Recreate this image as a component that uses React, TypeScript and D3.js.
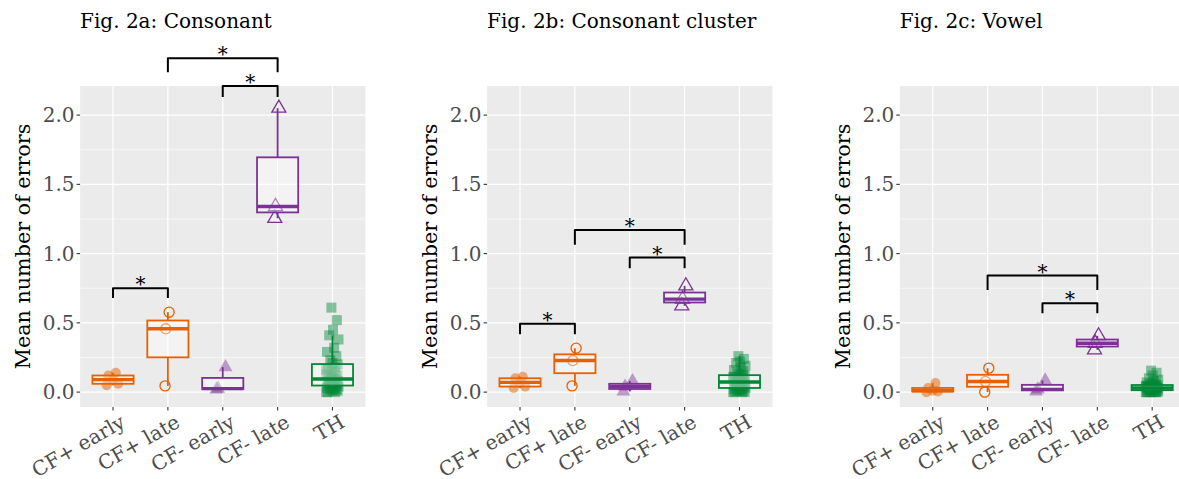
import React from "react";
import * as d3 from "d3";

const categories = ["CF+ early", "CF+ late", "CF- early", "CF- late", "TH"];
const titles = ["Fig. 2a: Consonant", "Fig. 2b: Consonant cluster", "Fig. 2c: Vowel"];
const yTicks = [0, 0.5, 1.0, 1.5, 2.0];
const yMinor = [0.25, 0.75, 1.25, 1.75];

// per-participant mean errors, one array per group
const consonant = [
  [0.05, 0.12, 0.14, 0.06, 0.09],
  [0.045, 0.457, 0.577],
  [0.02, 0.025, 0.18],
  [1.255, 1.34, 2.05],
  [0.0, 0.0, 0.0, 0.01, 0.01, 0.02, 0.02, 0.03, 0.03, 0.04,
   0.05, 0.05, 0.06, 0.06, 0.07, 0.07, 0.08, 0.08, 0.09, 0.09,
   0.10, 0.11, 0.12, 0.13, 0.14, 0.15, 0.16, 0.17, 0.18, 0.20,
   0.21, 0.23, 0.26, 0.29, 0.32, 0.38, 0.41, 0.45, 0.52, 0.61],
];
const cluster = [
  [0.03, 0.1, 0.11, 0.04, 0.07],
  [0.045, 0.228, 0.317],
  [0.005, 0.04, 0.08],
  [0.623, 0.671, 0.767],
  [0.0, 0.0, 0.0, 0.0, 0.01, 0.01, 0.01, 0.02, 0.02, 0.03,
   0.03, 0.04, 0.04, 0.05, 0.05, 0.06, 0.06, 0.06, 0.07, 0.07,
   0.075, 0.08, 0.09, 0.09, 0.10, 0.10, 0.11, 0.11, 0.12, 0.12,
   0.13, 0.14, 0.15, 0.16, 0.18, 0.19, 0.21, 0.22, 0.24, 0.26],
];
const vowel = [
  [0.0, 0.03, 0.065, 0.005, 0.01],
  [0.0, 0.077, 0.173],
  [0.005, 0.02, 0.085],
  [0.305, 0.353, 0.406],
  [0.0, 0.0, 0.0, 0.0, 0.0, 0.0, 0.0, 0.0, 0.01, 0.01,
   0.015, 0.02, 0.02, 0.02, 0.025, 0.025, 0.03, 0.03, 0.03, 0.03,
   0.03, 0.035, 0.035, 0.04, 0.04, 0.04, 0.045, 0.045, 0.05, 0.05,
   0.055, 0.06, 0.065, 0.07, 0.08, 0.09, 0.10, 0.12, 0.14, 0.155],
];

// significance brackets: [from, to, bracket y, tip end y]
const consonantBrackets = [[0, 1, 0.75, 0.68], [2, 3, 2.21, 2.13], [1, 3, 2.41, 2.31]];
const clusterBrackets = [[0, 1, 0.493, 0.418], [2, 3, 0.971, 0.895], [1, 3, 1.171, 1.063]];
const vowelBrackets = [[2, 3, 0.642, 0.57], [1, 3, 0.841, 0.738]];

const datasets = [consonant, cluster, vowel];
const bracketSets = [consonantBrackets, clusterBrackets, vowelBrackets];

// style / layout
const COLORS = ["#E66101", "#E66101", "#7B3294", "#7B3294", "#008837"];
const FILLED = [true, false, true, false, true];
const SHAPES = [d3.symbolCircle, d3.symbolCircle, d3.symbolTriangle, d3.symbolTriangle, d3.symbolSquare];
const SIZES = [80, 80, 85, 85, 100];
const ALPHA = [0.5, 0, 0.45, 0, 0.45];
const JITTER = [-0.115, -0.085, 0.05, 0.095, 0.0, -0.04, 0.07, -0.1, 0.03, 0.11, -0.06, 0.01,
  0.08, -0.02, -0.09, 0.04, 0.1, -0.05, 0.06, -0.07, 0.02, -0.03, 0.09, -0.11, 0.05, -0.01];
const PANEL_LEFT = [80.1, 487.1, 899.8];
const PANEL_W = 285.3;
const TOP = 86;
const BOTTOM = 407;
const FONT = "'DejaVu Serif', serif";

function boxStats(vals: number[]) {
  const s = [...vals].sort((a, b) => a - b);
  const q1 = d3.quantile(s, 0.25)!;
  const med = d3.quantile(s, 0.5)!;
  const q3 = d3.quantile(s, 0.75)!;
  const iqr = q3 - q1;
  const lo = d3.min(s.filter((v) => v >= q1 - 1.5 * iqr))!;
  const hi = d3.max(s.filter((v) => v <= q3 + 1.5 * iqr))!;
  return { q1, med, q3, lo, hi };
}

function Panel({ idx }: { idx: number }) {
  const left = PANEL_LEFT[idx];
  const data = datasets[idx];
  const x = d3.scaleBand().domain(categories).range([left, left + PANEL_W]).paddingOuter(0.1).paddingInner(0);
  const step = x.step();
  const cx = (c: string) => x(c)! + step / 2;
  const y = d3.scaleLinear().domain([-0.1075, 2.21]).range([BOTTOM, TOP]);
  const right = left + PANEL_W;
  return (
    <g>
      <text x={left} y={27.5} fontSize={20} fontFamily={FONT} fill="#000">{titles[idx]}</text>
      <rect x={left} y={TOP} width={PANEL_W} height={BOTTOM - TOP} fill="#EBEBEB" />
      {yMinor.map((t) => (
        <line key={"m" + t} x1={left} x2={right} y1={y(t)} y2={y(t)} stroke="#fff" strokeWidth={0.6} />
      ))}
      {yTicks.map((t) => (
        <line key={"M" + t} x1={left} x2={right} y1={y(t)} y2={y(t)} stroke="#fff" strokeWidth={1.2} />
      ))}
      {categories.map((c) => (
        <line key={"v" + c} x1={cx(c)} x2={cx(c)} y1={TOP} y2={BOTTOM} stroke="#fff" strokeWidth={1.2} />
      ))}
      {/* points */}
      {data.map((vals, gi) => {
        const c = categories[gi];
        const sym = d3.symbol().type(SHAPES[gi]).size(SIZES[gi]);
        const scale = FILLED[gi] ? 1 : 0.45;
        return vals.map((v, pi) => {
          const px = cx(c) + JITTER[pi % JITTER.length] * step * scale;
          const py = y(v);
          return (
            <path
              key={gi + "-" + pi}
              d={sym()!}
              transform={`translate(${px},${py})`}
              fill={FILLED[gi] ? COLORS[gi] : "none"}
              fillOpacity={ALPHA[gi]}
              stroke={FILLED[gi] ? "none" : COLORS[gi]}
              strokeWidth={1.3}
            />
          );
        });
      })}
      {/* boxes */}
      {data.map((vals, gi) => {
        const c = categories[gi];
        const st = boxStats(vals);
        const bw = step * 0.75;
        const x0 = cx(c) - bw / 2;
        return (
          <g key={"b" + gi} stroke={COLORS[gi]}>
            <line x1={cx(c)} x2={cx(c)} y1={y(st.q3)} y2={y(st.hi)} strokeWidth={1.8} />
            <line x1={cx(c)} x2={cx(c)} y1={y(st.q1)} y2={y(st.lo)} strokeWidth={1.8} />
            <rect x={x0} y={y(st.q3)} width={bw} height={y(st.q1) - y(st.q3)} fill="#fff" fillOpacity={0.4} strokeWidth={1.8} />
            <line x1={x0} x2={x0 + bw} y1={y(st.med)} y2={y(st.med)} strokeWidth={3.4} />
          </g>
        );
      })}
      {/* axes ticks */}
      {yTicks.map((t) => (
        <g key={"yt" + t}>
          <line x1={left - 3.5} x2={left} y1={y(t)} y2={y(t)} stroke="#333" strokeWidth={1.1} />
          <text x={left - 5.5} y={y(t)} dy="0.35em" textAnchor="end" fontSize={20} fontFamily={FONT} fill="#4D4D4D">
            {d3.format(".1f")(t)}
          </text>
        </g>
      ))}
      {categories.map((c) => (
        <g key={"xt" + c}>
          <line x1={cx(c)} x2={cx(c)} y1={BOTTOM} y2={BOTTOM + 3.5} stroke="#333" strokeWidth={1.1} />
          <text
            transform={`translate(${cx(c) + 6},${BOTTOM + 6}) rotate(-30) translate(0,15)`}
            textAnchor="end"
            fontSize={20}
            fontFamily={FONT}
            fill="#4D4D4D"
          >
            {c}
          </text>
        </g>
      ))}
      <text
        transform={`translate(${left - 57.5},${(TOP + BOTTOM) / 2}) rotate(-90)`}
        textAnchor="middle"
        dy="0.35em"
        fontSize={20.7}
        fontFamily={FONT}
        fill="#000"
      >
        Mean number of errors
      </text>
      {/* significance brackets */}
      {bracketSets[idx].map(([a, b, by, tip], k) => {
        const xa = cx(categories[a]);
        const xb = cx(categories[b]);
        return (
          <g key={"br" + k}>
            <path
              d={`M${xa},${y(tip)}V${y(by)}H${xb}V${y(tip)}`}
              fill="none"
              stroke="#000"
              strokeWidth={2}
              strokeLinejoin="round"
            />
            <text x={(xa + xb) / 2} y={y(by) + 3} textAnchor="middle" fontSize={20} fontFamily={FONT} fill="#000">
              *
            </text>
          </g>
        );
      })}
    </g>
  );
}

export default function App() {
  return (
    <svg width={1179} height={479} style={{ position: "absolute", left: 0, top: 0, background: "#fff" }}>
      <rect width={1179} height={479} fill="#fff" />
      {[0, 1, 2].map((i) => (
        <Panel key={i} idx={i} />
      ))}
    </svg>
  );
}
